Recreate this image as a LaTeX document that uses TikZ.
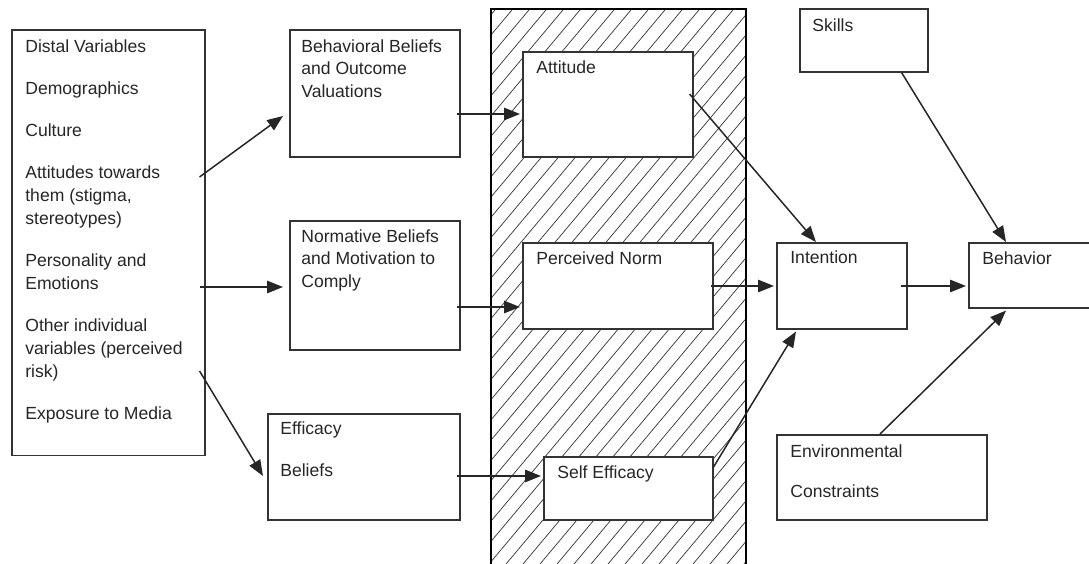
\documentclass[tikz,border=0pt]{standalone}
\usepackage{fontspec}
\setmainfont{Liberation Sans}
\usepackage{tikz}
\usetikzlibrary{arrows.meta,positioning,calc}

\begin{document}
\begin{tikzpicture}[x=0.02cm,y=-0.02cm,
  box/.style={draw=black!80, line width=0.9pt, fill=white, anchor=north west, inner sep=0pt},
  lbl/.style={anchor=north west, align=left, inner sep=0pt, text=black!85, font=\fontsize{10}{13}\selectfont},
  arr/.style={-{Triangle[length=9pt,width=7pt]}, line width=0.85pt, draw=black!85}]
\useasboundingbox (0,0) rectangle (1089,564);

% Hatched area
\begin{scope}
\clip (491,9) rectangle (746,570);
\foreach \x in {-9,8,...,760}
  \draw[line width=0.4pt, black!80] (\x,570) -- ++(480,-572);
\end{scope}
\draw[line width=0.7pt] (491,570) -- (491,9) -- (746,9) -- (746,570);

% Boxes
\node[box, minimum width=3.86cm, minimum height=8.52cm] (distal) at (11,29) {};
\node[box, minimum width=3.40cm, minimum height=2.54cm] (behav) at (289,29) {};
\node[box, minimum width=3.40cm, minimum height=2.58cm] (norm) at (289,220) {};
\node[box, minimum width=3.84cm, minimum height=2.12cm] (effb) at (267,413) {};
\node[box, minimum width=3.40cm, minimum height=2.10cm] (att) at (522,51) {};
\node[box, minimum width=3.80cm, minimum height=1.72cm] (pnorm) at (522,242) {};
\node[box, minimum width=3.38cm, minimum height=1.26cm] (seff) at (543,456) {};
\node[box, minimum width=2.60cm, minimum height=1.72cm] (intent) at (776,242) {};
\node[box, minimum width=3.00cm, minimum height=1.30cm] (behavior) at (968,242) {};
\node[box, minimum width=2.56cm, minimum height=1.26cm] (skills) at (799,8) {};
\node[box, minimum width=4.20cm, minimum height=1.70cm] (env) at (776,434) {};

% Box texts
\node[lbl] (distaltxt) at ($(distal.north west)+(14,10)$) {Distal Variables\\[11pt]
  Demographics\\[11pt] Culture\\[11pt] Attitudes towards\\ them (stigma,\\ stereotypes)\\[11pt]
  Personality and\\ Emotions\\[11pt] Other individual\\ variables (perceived\\ risk)\\[11pt]
  Exposure to Media};
\node[lbl] (behavtxt) at ($(behav.north west)+(12,10)$) {Behavioral Beliefs\\ and Outcome\\ Valuations};
\node[lbl] (normtxt) at ($(norm.north west)+(12,9)$) {Normative Beliefs\\ and Motivation to\\ Comply};
\node[lbl] (effbtxt) at ($(effb.north west)+(13,8)$) {Efficacy\\[11pt] Beliefs};
\node[lbl] (atttxt) at ($(att.north west)+(14,9)$) {Attitude};
\node[lbl] (pnormtxt) at ($(pnorm.north west)+(14,9)$) {Perceived Norm};
\node[lbl] (sefftxt) at ($(seff.north west)+(14,9)$) {Self Efficacy};
\node[lbl] (intenttxt) at ($(intent.north west)+(14,8)$) {Intention};
\node[lbl] (behaviortxt) at ($(behavior.north west)+(14,9)$) {Behavior};
\node[lbl] (skillstxt) at ($(skills.north west)+(13,10)$) {Skills};
\node[lbl] (envtxt) at ($(env.north west)+(14,10)$) {Environmental\\[10pt] Constraints};

% Connectors
\draw[arr] ($(distal.north east)+(-6,148)$) -- ($(behav.north west)+(-6,87)$);
\draw[arr] ($(distal.north east)+(-6,258)$) -- ($(norm.north west)+(-6,67)$);
\draw[arr] ($(distal.north east)+(-6,342)$) -- ($(effb.north west)+(-4,63)$);
\draw[arr] ($(behav.north east)+(-4,85)$) -- ($(att.north west)+(-2,63)$);
\draw[arr] ($(norm.north east)+(-4,87)$) -- ($(pnorm.north west)+(-2,65)$);
\draw[arr] ($(effb.north east)+(-4,63)$) -- ($(seff.north west)+(-2,20)$);
\draw[arr] ($(att.north east)+(-4,43)$) -- ($(intent.north west)+(40,0)$);
\draw[arr] ($(pnorm.north east)+(-3,44)$) -- ($(intent.north west)+(-2,44)$);
\draw[arr] ($(seff.north east)+(0,11)$) -- ($(intent.south west)+(20,2)$);
\draw[arr] ($(intent.north east)+(-7,44)$) -- ($(behavior.north west)+(-2,44)$);
\draw[arr] ($(skills.south east)+(-27,0)$) -- ($(behavior.north west)+(38,0)$);
\draw[arr] ($(env.north west)+(104,0)$) -- ($(behavior.south west)+(38,2)$);

\end{tikzpicture}
\end{document}
